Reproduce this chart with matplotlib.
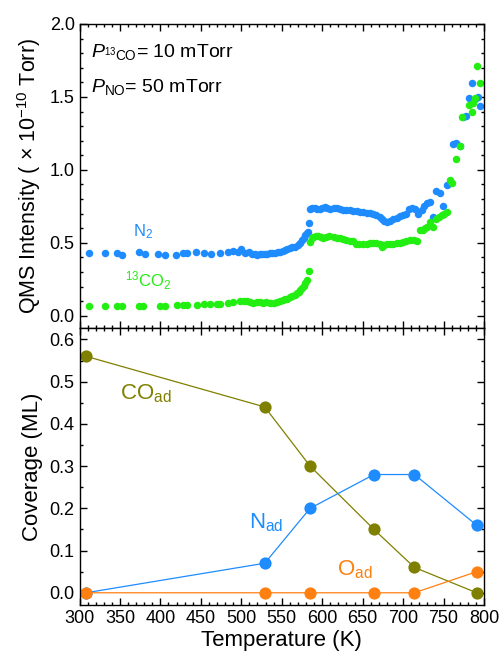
import matplotlib
matplotlib.use("Agg")
import matplotlib.pyplot as plt
from matplotlib.ticker import MultipleLocator

plt.rcParams['font.family'] = ['Liberation Sans', 'DejaVu Sans']
plt.rcParams['mathtext.fontset'] = 'custom'
plt.rcParams['mathtext.rm'] = 'Liberation Sans'
plt.rcParams['mathtext.it'] = 'Liberation Sans:italic'
plt.rcParams['mathtext.bf'] = 'Liberation Sans:bold'

# ---------------- data: QMS signals ----------------
n2_T = [312, 331, 346, 353, 373, 381, 397, 406, 419, 428, 433, 444, 454, 463, 474,
        484, 490, 496, 500, 505, 509, 513, 517, 520, 523, 526, 529, 532, 535, 538,
        542, 545, 548, 551, 554, 557, 560, 563, 566, 570, 572, 575, 577, 579, 581,
        583, 584,
        585, 588, 591, 594, 597, 600, 603, 606, 610, 614, 618, 622, 626, 630, 634,
        638, 643, 647, 651, 655, 659, 663, 667, 671, 674, 677, 680, 684, 688, 692,
        696, 700, 704, 707, 711, 715, 719, 723, 726, 729, 733, 737, 741, 745, 749,
        754, 758, 762, 766, 770, 774, 778, 782, 785, 789, 792, 795]
n2_I = [0.428, 0.432, 0.432, 0.414, 0.439, 0.423, 0.421, 0.416, 0.414, 0.428, 0.428,
        0.437, 0.428, 0.423, 0.430,
        0.439, 0.446, 0.439, 0.455, 0.428, 0.439, 0.420, 0.420, 0.418, 0.420, 0.420,
        0.423, 0.425, 0.428, 0.430, 0.432, 0.437, 0.439, 0.445, 0.450, 0.455, 0.462,
        0.468, 0.474, 0.485, 0.500, 0.519, 0.535, 0.553, 0.565, 0.576, 0.638,
        0.735, 0.740, 0.738, 0.733, 0.735, 0.740, 0.742, 0.737, 0.735, 0.738, 0.740,
        0.732, 0.728, 0.725, 0.722, 0.718, 0.716, 0.714, 0.708, 0.706, 0.704, 0.700,
        0.690, 0.675, 0.665, 0.650, 0.645, 0.648, 0.660, 0.672, 0.682, 0.690, 0.700,
        0.735, 0.738, 0.730, 0.700, 0.722, 0.755, 0.770, 0.782, 0.680, 0.855, 0.840,
        0.750, 0.896, 0.912, 1.178, 1.187, 1.164, 1.365, 1.370, 1.490, 1.594, 1.484,
        1.500, 1.440]

co2_T = [312, 331, 346, 353, 373, 379, 399, 406, 420, 428, 433, 445, 454, 461, 470,
         474, 484, 490, 498, 503, 507, 511, 515, 519, 523, 527, 531, 535, 540, 544,
         548, 551, 554, 557, 560, 563, 566, 569, 571, 573, 575, 577, 579, 581, 584,
         585, 587, 589, 592, 595, 598, 601, 605, 609, 614, 618, 622, 626, 630, 634,
         638, 642, 646, 651, 655, 659, 663, 667, 671, 674, 677, 680, 684, 688, 692,
         696, 700, 704, 709, 713, 717, 721, 724, 727, 730, 733, 737, 741, 744, 748,
         751, 754, 758, 760, 765, 770, 773, 782, 785, 786, 789, 791, 795]
co2_I = [0.066, 0.066, 0.067, 0.067, 0.066, 0.067, 0.068, 0.068, 0.071, 0.072, 0.072,
         0.075, 0.077, 0.077, 0.077,
         0.078, 0.085, 0.096, 0.103, 0.100, 0.100, 0.095, 0.089, 0.092, 0.092, 0.090,
         0.092, 0.090, 0.089, 0.095, 0.103, 0.107, 0.112, 0.118, 0.126, 0.133, 0.142,
         0.155, 0.165, 0.175, 0.188, 0.205, 0.222, 0.245, 0.309,
         0.507, 0.530, 0.540, 0.545, 0.547, 0.542, 0.535, 0.540, 0.545, 0.542, 0.535,
         0.530, 0.524, 0.520, 0.515, 0.515, 0.495, 0.490, 0.492, 0.492, 0.497, 0.500,
         0.497, 0.490, 0.469, 0.485, 0.492, 0.494, 0.495, 0.497, 0.500, 0.505, 0.510,
         0.520, 0.520, 0.515, 0.588, 0.590, 0.600, 0.610, 0.640, 0.610, 0.660, 0.680,
         0.690, 0.700, 0.714, 0.930, 0.910, 1.075, 1.165, 1.360, 1.445, 1.400, 1.460,
         1.490, 1.713, 1.594]

# ---------------- data: coverages ----------------
cov_T = [308, 529, 585, 664, 714, 791]
co_ad = [0.56, 0.44, 0.30, 0.15, 0.06, 0.00]
n_ad = [0.00, 0.07, 0.20, 0.28, 0.28, 0.16]
o_ad = [0.00, 0.00, 0.00, 0.00, 0.00, 0.05]

blue = '#1E8CFF'
green = '#22EE11'
olive = '#808000'
orange = '#FF8010'

fig = plt.figure(figsize=(5.0, 6.59), dpi=100)
ax1 = fig.add_axes([0.159, 0.5023, 0.809, 0.4613])
ax2 = fig.add_axes([0.159, 0.0819, 0.809, 0.4204])

for ax in (ax1, ax2):
    ax.set_xlim(300, 800)
    ax.xaxis.set_major_locator(MultipleLocator(50))
    ax.xaxis.set_minor_locator(MultipleLocator(10))
    ax.tick_params(which='both', direction='in', top=True, right=True,
                   labelsize=13, width=1.0)
    ax.tick_params(which='major', length=5)
    ax.tick_params(which='minor', length=2.5)
    for s in ax.spines.values():
        s.set_linewidth(1.0)

# top panel
ax1.plot(n2_T, n2_I, 'o', color=blue, ms=5.4, mew=0, ls='none')
ax1.plot(co2_T, co2_I, 'o', color=green, ms=5.4, mew=0, ls='none')
ax1.set_ylim(-0.084, 2.0)
ax1.yaxis.set_major_locator(MultipleLocator(0.5))
ax1.yaxis.set_minor_locator(MultipleLocator(0.1))
ax1.yaxis.set_major_formatter(matplotlib.ticker.FormatStrFormatter('%.1f'))
ax1.tick_params(labelbottom=False)
ax1.set_ylabel(r'QMS Intensity ( $\times$ 10$^{-10}$ Torr)', fontsize=15.5, labelpad=5)
ax1.text(366, 0.547, r'N$_2$', color=blue, fontsize=12)
ax1.text(356, 0.199, r'$^{13}$CO$_2$', color=green, fontsize=12)
ax1.text(0.028, 0.89, r'$P_{{}^{13}\mathrm{CO}}$= 10 mTorr', transform=ax1.transAxes,
         fontsize=14)
ax1.text(0.028, 0.777, r'$P_{\mathrm{NO}}$= 50 mTorr', transform=ax1.transAxes,
         fontsize=14)

# bottom panel
ax2.plot(cov_T, co_ad, '-o', color=olive, ms=8.8, mew=0, lw=0.9)
ax2.plot(cov_T, n_ad, '-o', color=blue, ms=8.8, mew=0, lw=0.9)
ax2.plot(cov_T, o_ad, '-o', color=orange, ms=8.8, mew=0, lw=0.9)
ax2.set_ylim(-0.029, 0.627)
ax2.yaxis.set_major_locator(MultipleLocator(0.1))
ax2.yaxis.set_minor_locator(MultipleLocator(0.05))
ax2.yaxis.set_major_formatter(matplotlib.ticker.FormatStrFormatter('%.1f'))
ax2.set_ylabel('Coverage (ML)', fontsize=16, labelpad=5)
ax2.set_xlabel('Temperature (K)', fontsize=16, labelpad=2)
ax2.text(350, 0.458, r'CO$_{\mathrm{ad}}$', color=olive, fontsize=16)
ax2.text(509, 0.152, r'N$_{\mathrm{ad}}$', color=blue, fontsize=16)
ax2.text(618, 0.042, r'O$_{\mathrm{ad}}$', color=orange, fontsize=16)

fig.savefig('out.png', dpi=100)
